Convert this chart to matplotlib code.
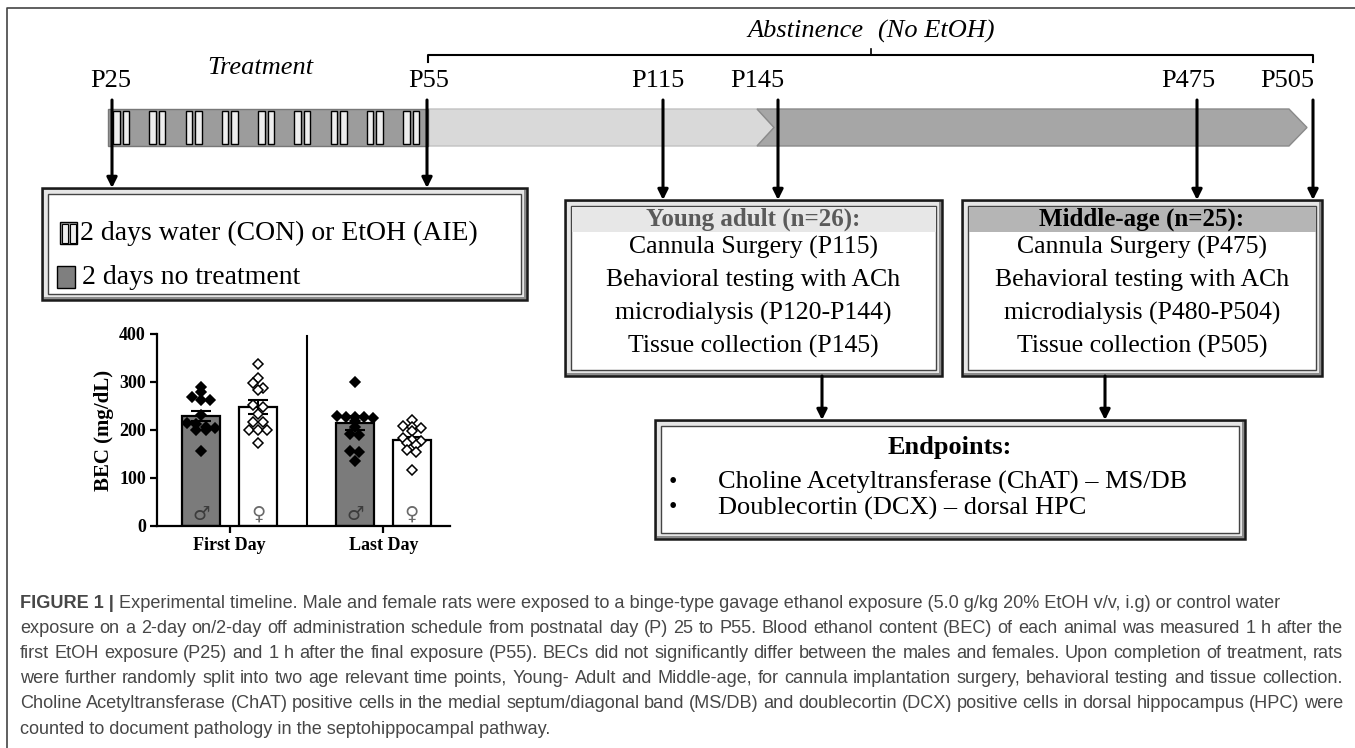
import numpy as np
import matplotlib
matplotlib.use('Agg')
import matplotlib.pyplot as plt
from matplotlib.patches import Rectangle, Polygon

plt.rcParams['font.family'] = ['Liberation Serif', 'DejaVu Serif']

W, H = 1355, 748

# ---- BEC inset data (mg/dL) ----
day_groups = ['First Day', 'Last Day']
sex_symbols = ['\u2642', '\u2640']
bec_mean = [229, 248, 215, 179]      # male/female first day, male/female last day
bec_sem = [11, 14, 15, 7]
male_first = [289, 279, 268, 263, 262, 232, 214, 213, 207, 205, 200, 199, 157]
female_first = [338, 309, 297, 288, 283, 253, 248, 234, 217, 217, 200, 200, 200, 172]
male_last = [300, 229, 228, 228, 227, 226, 218, 207, 191, 189, 157, 154, 136]
female_last = [220, 209, 207, 204, 197, 183, 179, 178, 172, 169, 159, 154, 116]
yticks = [0, 100, 200, 300, 400]

# ---- diagram text ----
day_labels = ['P25', 'P55', 'P115', 'P145', 'P475', 'P505']
legend_lines = ['2 days water (CON) or EtOH (AIE)', '2 days no treatment']
young_title = 'Young adult (n=26):'
young_lines = ['Cannula Surgery (P115)', 'Behavioral testing with ACh',
               'microdialysis (P120-P144)', 'Tissue collection (P145)']
middle_title = 'Middle-age (n=25):'
middle_lines = ['Cannula Surgery (P475)', 'Behavioral testing with ACh',
                'microdialysis (P480-P504)', 'Tissue collection (P505)']
endpoint_lines = ['Choline Acetyltransferase (ChAT) \u2013 MS/DB',
                  'Doublecortin (DCX) \u2013 dorsal HPC']
caption_head = 'FIGURE 1 |'
caption_lines = [
    'Experimental timeline. Male and female rats were exposed to a binge-type gavage ethanol exposure (5.0 g/kg 20% EtOH v/v, i.g) or control water',
    'exposure on a 2-day on/2-day off administration schedule from postnatal day (P) 25 to P55. Blood ethanol content (BEC) of each animal was measured 1 h after the',
    'first EtOH exposure (P25) and 1 h after the final exposure (P55). BECs did not significantly differ between the males and females. Upon completion of treatment, rats',
    'were further randomly split into two age relevant time points, Young- Adult and Middle-age, for cannula implantation surgery, behavioral testing and tissue collection.',
    'Choline Acetyltransferase (ChAT) positive cells in the medial septum/diagonal band (MS/DB) and doublecortin (DCX) positive cells in dorsal hippocampus (HPC) were',
    'counted to document pathology in the septohippocampal pathway.',
]

# ---- layout (pixels, y down) ----
label_x = [111, 429, 658, 757, 1188, 1287]
arrow_x = [112, 427, 663, 778, 1197, 1313]
arrow_end = [188, 188, 200, 200, 200, 200]
BAR_T, BAR_B = 109, 146

fig = plt.figure(figsize=(W / 100, H / 100), dpi=100)
ax = fig.add_axes([0, 0, 1, 1])
ax.set_xlim(0, W)
ax.set_ylim(H, 0)
ax.axis('off')

# outer frame
ax.plot([7, 7, W], [H, 8, 8], color='#444444', lw=1.2)

# abstinence bracket
ax.plot([428, 428, 1313, 1313], [62, 55, 55, 62], color='k', lw=1.5)
ax.plot([871, 871], [55, 49], color='k', lw=1.2)
ax.text(864, 31, 'Abstinence', ha='right', va='center', fontsize=19, style='italic')
ax.text(878, 31, '(No EtOH)', ha='left', va='center', fontsize=19, style='italic')
ax.text(260, 68, 'Treatment', ha='center', va='center', fontsize=19, style='italic')

for lab, x in zip(day_labels, label_x):
    ax.text(x, 81, lab, ha='center', va='center', fontsize=19)

# timeline bar
mid = (BAR_T + BAR_B) / 2
ax.add_patch(Polygon([(428, BAR_T), (757, BAR_T), (774, mid), (757, BAR_B), (428, BAR_B)],
                     fc='#d9d9d9', ec='#c2c2c2', lw=1))
ax.add_patch(Polygon([(757, BAR_T), (1289, BAR_T), (1307, mid), (1289, BAR_B), (757, BAR_B), (774, mid)],
                     fc='#a6a6a6', ec='#8a8a8a', lw=1))
ax.add_patch(Rectangle((108, BAR_T), 320, BAR_B - BAR_T, fc='#9c9c9c', ec='#777777', lw=1))
for p in np.linspace(113, 403, 9):
    for dx in (0, 9.5):
        ax.add_patch(Rectangle((p + dx, BAR_T + 2), 6.5, BAR_B - BAR_T - 4,
                               fc='#eeeeee', ec='k', lw=1))

arrow_kw = dict(arrowstyle='-|>', lw=2.2, color='k', mutation_scale=15, shrinkA=0, shrinkB=0)
for x, y1 in zip(arrow_x, arrow_end):
    ax.annotate('', xy=(x, y1), xytext=(x, 100), arrowprops=arrow_kw)


def bevel_box(x0, y0, x1, y1):
    ax.add_patch(Rectangle((x0, y0), x1 - x0, y1 - y0, fc='#8c8c8c', ec='#1a1a1a', lw=1.8, zorder=3))
    ax.add_patch(Rectangle((x0 + 1.5, y0 + 1.5), x1 - x0 - 5, y1 - y0 - 5, fc='#e6e6e6', ec='none', zorder=3))
    ax.add_patch(Rectangle((x0 + 6, y0 + 6), x1 - x0 - 12, y1 - y0 - 12, fc='white', ec='#444444', lw=1, zorder=3))


# legend box
bevel_box(42, 188, 527, 300)
ax.add_patch(Rectangle((60, 222), 17, 22, fc='#9c9c9c', ec='k', lw=1, zorder=4))
ax.add_patch(Rectangle((61.5, 223.5), 6, 19, fc='#eeeeee', ec='k', lw=0.8, zorder=4))
ax.add_patch(Rectangle((69.5, 223.5), 6, 19, fc='#eeeeee', ec='k', lw=0.8, zorder=4))
ax.add_patch(Rectangle((57, 266), 18, 22, fc='#7f7f7f', ec='k', lw=1, zorder=4))
ax.text(80, 233, legend_lines[0], va='center', fontsize=20, zorder=5)
ax.text(82, 277, legend_lines[1], va='center', fontsize=20, zorder=5)

# age boxes
for (x0, x1), title, lines, band, tcol in [((565, 942), young_title, young_lines, '#e7e7e7', '#5a5a5a'),
                                          ((962, 1322), middle_title, middle_lines, '#b5b5b5', 'k')]:
    bevel_box(x0, 200, x1, 376)
    ax.add_patch(Rectangle((x0 + 6.5, 206.5), x1 - x0 - 13, 25, fc=band, ec='none', zorder=4))
    cx = (x0 + x1) / 2
    ax.text(cx, 219, title, ha='center', va='center', fontsize=18, fontweight='bold', color=tcol, zorder=5)
    for i, line in enumerate(lines):
        ax.text(cx, 247 + 33 * i, line, ha='center', va='center', fontsize=18.5, zorder=5)

for x in (822, 1105):
    ax.annotate('', xy=(x, 420), xytext=(x, 376), arrowprops=arrow_kw)

# endpoints box
bevel_box(655, 420, 1245, 539)
ax.text(950, 447, 'Endpoints:', ha='center', va='center', fontsize=19, fontweight='bold', zorder=5)
for i, line in enumerate(endpoint_lines):
    y = 482 + 26 * i
    ax.text(673, y, '\u2022', ha='center', va='center', fontsize=17, zorder=5)
    ax.text(718, y, line, ha='left', va='center', fontsize=19, zorder=5)

# caption, justified like the journal layout
renderer = fig.canvas.get_renderer()
cap_kw = dict(family='Liberation Sans', color='#474747', va='center')


def width_of(s, **kw):
    t = ax.text(0, 0, s, **kw)
    w = t.get_window_extent(renderer).width
    t.remove()
    return w


x0, x1 = 20, 1343
w_head = width_of(caption_head + ' ', fontsize=12, fontweight='bold', **cap_kw)
w_rest = width_of(caption_lines[0], fontsize=12, **cap_kw)
cap_fs = 12 * (1283 - x0) / (w_head + w_rest)

for i, line in enumerate(caption_lines):
    y = 603 + 25.2 * i
    if i == 0:
        t = ax.text(x0, y, caption_head + ' ', fontsize=cap_fs, fontweight='bold', **cap_kw)
        wh = t.get_window_extent(renderer).width
        ax.text(x0 + wh, y, line, fontsize=cap_fs, **cap_kw)
    elif i == len(caption_lines) - 1:
        ax.text(x0, y, line, fontsize=cap_fs, **cap_kw)
    else:
        words = line.split(' ')
        texts = [ax.text(0, y, w, fontsize=cap_fs, **cap_kw) for w in words]
        widths = [t.get_window_extent(renderer).width for t in texts]
        gap = (x1 - x0 - sum(widths)) / (len(words) - 1)
        x = x0
        for t, w in zip(texts, widths):
            t.set_x(x)
            x += w + gap

# ---- BEC inset ----
px_unit = 57.0
left_px, right_px = 157, 450
y0_px, y400_px = 526, 334
ax2 = fig.add_axes([left_px / W, (H - y0_px) / H, (right_px - left_px) / W, (y0_px - y400_px) / H])
ax2.set_xlim((left_px - 201) / px_unit, (right_px - 201) / px_unit)
ax2.set_ylim(0, 400)
ax2.patch.set_alpha(0)

group_step = 2.7
bar_x = [g * group_step + s for g in range(2) for s in range(2)]
series = [male_first, female_first, male_last, female_last]


def swarm(vals, tol=9, step=0.16, max_row=5):
    order = sorted(vals, reverse=True)
    rows, cur = [], [order[0]]
    for v in order[1:]:
        if cur[0] - v <= tol and len(cur) < max_row:
            cur.append(v)
        else:
            rows.append(cur)
            cur = [v]
    rows.append(cur)
    xs, ys = [], []
    for r in rows:
        n = len(r)
        for k, v in enumerate(r):
            xs.append((k - (n - 1) / 2) * step)
            ys.append(v)
    return np.array(xs), np.array(ys)


for i, (bx, m, e, vals) in enumerate(zip(bar_x, bec_mean, bec_sem, series)):
    male = i % 2 == 0
    ax2.bar(bx, m, width=0.667, color='#7b7b7b' if male else 'white', edgecolor='k', linewidth=1.6, zorder=2)
    ax2.errorbar(bx, m, yerr=e, fmt='none', ecolor='k', elinewidth=1.5, capsize=7, capthick=1.5, zorder=3)
    dx, vy = swarm(vals)
    ax2.plot(bx + dx, vy, linestyle='none', marker='D', markersize=5.2,
             markerfacecolor='k' if male else 'white', markeredgecolor='k',
             markeredgewidth=1.1, zorder=4, clip_on=False)
    ax2.text(bx, 24, sex_symbols[i % 2], ha='center', va='center', fontsize=14,
             family='DejaVu Sans', color='#3c3c3c' if male else '#6a6a6a', zorder=5)

ax2.plot([1.86, 1.86], [0, 395], color='k', lw=1.5)
for s in ('top', 'right'):
    ax2.spines[s].set_visible(False)
for s in ('left', 'bottom'):
    ax2.spines[s].set_linewidth(1.6)
ax2.set_yticks(yticks)
ax2.set_xticks([0.5, 0.5 + group_step])
ax2.set_xticklabels(day_groups)
ax2.tick_params(width=1.6, length=5, labelsize=13, pad=3)
for lab in ax2.get_xticklabels() + ax2.get_yticklabels():
    lab.set_fontweight('bold')
ax2.set_ylabel('BEC (mg/dL)', fontsize=15, fontweight='bold', labelpad=4)

fig.savefig('out.png', dpi=100)
